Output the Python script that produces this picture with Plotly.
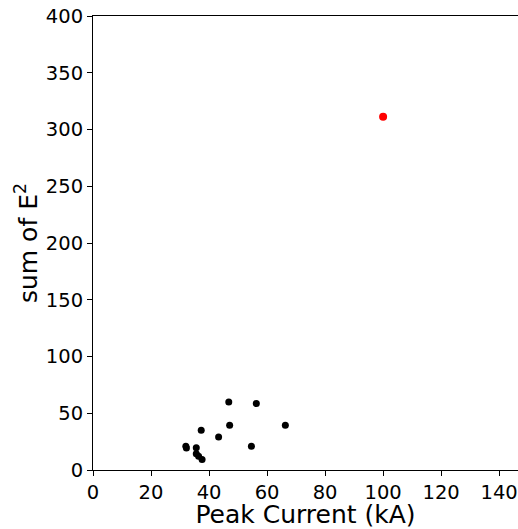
import plotly.graph_objects as go

peak_current = [46.8, 56.3, 47.1, 66.3, 37.3, 43.3, 32.0, 32.2, 54.6, 35.6, 35.6, 36.4, 37.6]
sum_e2 = [60.0, 58.5, 39.4, 39.4, 35.0, 29.1, 20.9, 19.3, 20.9, 19.7, 14.4, 12.1, 9.2]
outlier_x = [100.0]
outlier_y = [311.3]

fig = go.Figure()
fig.add_trace(go.Scatter(x=peak_current, y=sum_e2, mode="markers",
                         marker=dict(color="black", size=7, line=dict(width=0))))
fig.add_trace(go.Scatter(x=outlier_x, y=outlier_y, mode="markers",
                         marker=dict(color="red", size=8, line=dict(width=0))))

axis_common = dict(showgrid=False, zeroline=False, showline=True, linecolor="black",
                   linewidth=1, ticks="outside", ticklen=5, tickcolor="black",
                   tickfont=dict(family="DejaVu Sans", size=19.5, color="black"))
fig.update_layout(
    width=518, height=529,
    margin=dict(l=93, r=0, t=16, b=59, autoexpand=False),
    paper_bgcolor="white", plot_bgcolor="white",
    showlegend=False,
    xaxis=dict(range=[0, 146.5], tickvals=[0, 20, 40, 60, 80, 100, 120, 140], mirror=True,
               title=dict(text="Peak Current (kA)", font=dict(family="DejaVu Sans", size=25, color="black"), standoff=3),
               **axis_common),
    yaxis=dict(range=[0, 400], tickvals=[0, 50, 100, 150, 200, 250, 300, 350, 400],
               title=dict(text="sum of E<sup>2</sup>", font=dict(family="DejaVu Sans", size=25, color="black"), standoff=1),
               **axis_common),
)
fig.write_html("out.html", config={"displayModeBar": False},
               post_script="document.body.style.margin='0';document.body.style.padding='0';")
